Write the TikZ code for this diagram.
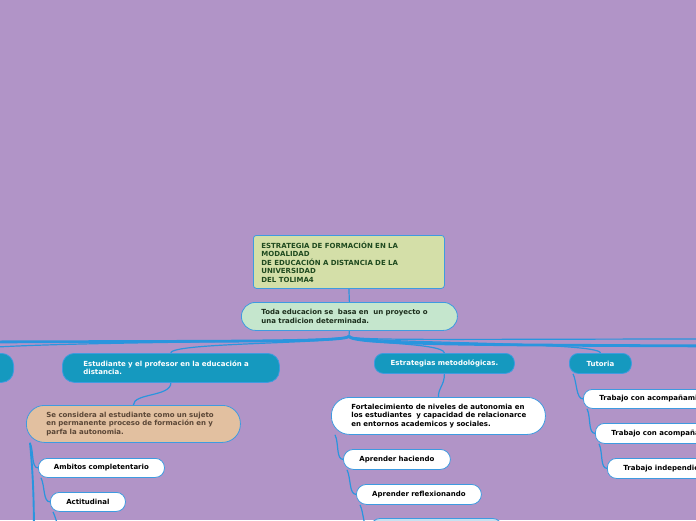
\documentclass[tikz,border=0pt]{standalone}
\usepackage{fontspec}
\setmainfont{DejaVu Sans}
\usetikzlibrary{calc}
\definecolor{bgc}{HTML}{B194C7}
\definecolor{lnk}{HTML}{2A95DE}
\definecolor{edg}{HTML}{3E9BE0}
\definecolor{tealn}{HTML}{1599BF}
\definecolor{rootf}{HTML}{D4DFA8}
\definecolor{mint}{HTML}{C5E6CD}
\definecolor{tanf}{HTML}{E2C0A0}
\definecolor{lblue}{HTML}{C6E2F2}
\definecolor{roott}{HTML}{1F4A1F}
\definecolor{mintt}{HTML}{1C2E1C}
\definecolor{brn}{HTML}{5A4636}
\newcommand\fsz{\fontsize{7}{8.5}\selectfont\bfseries}
\pgfdeclarelayer{bgl}
\pgfdeclarelayer{lin}
\pgfsetlayers{bgl,lin,main}
\begin{document}
\begin{tikzpicture}[x=1pt,y=-1pt,
  box/.style={draw=edg, line width=0.8pt, inner sep=0pt, font=\fsz, anchor=north west},
  tealbox/.style={box, fill=tealn, text=white},
  whitebox/.style={box, fill=white, text=black},
  lk/.style={draw=lnk, line width=1.2pt},
  thk/.style={draw=lnk, line width=2.8pt},
  thkb/.style={draw=lnk, line width=1.9pt}]
\begin{pgfonlayer}{bgl}
\fill[bgc] (0,0) rectangle (696,520);
\end{pgfonlayer}
\useasboundingbox (0,0) rectangle (696,520);

% nodes
\node[box, fill=rootf, text=roott, rounded corners=3pt, minimum height=53pt,
  text width=175pt, inner xsep=8pt, align=left] (root) at (253,235)
  {\mbox{ESTRATEGIA DE FORMACIÓN EN LA}\\MODALIDAD\\\mbox{DE EDUCACIÓN A DISTANCIA DE LA}\\UNIVERSIDAD\\DEL TOLIMA4};
\node[box, fill=mint, text=mintt, rounded corners=14pt, minimum height=28pt,
  text width=176pt, inner xsep=20pt, align=left] (tda) at (241,302)
  {\mbox{Toda educacion se~ basa en~ un proyecto o}\\\mbox{una tradicion determinada.}};

\node[tealbox, anchor=north east, rounded corners=12pt, minimum height=29pt, minimum width=120pt] (offl) at (14,353) {};
\node[tealbox, rounded corners=12pt, minimum height=29pt, text width=175pt, inner xsep=21pt, align=left] (est) at (62,353)
  {\mbox{Estudiante y el profesor en la educación a}\\distancia.};
\node[tealbox, rounded corners=9pt, minimum height=20pt, text width=140pt, align=center] (estrat) at (374,353)
  {Estrategias metodológicas.};
\node[tealbox, rounded corners=9pt, minimum height=20pt, text width=62pt, align=center] (tut) at (569,353)
  {Tutoria};

\node[box, fill=tanf, text=brn, rounded corners=18pt, minimum height=37pt, text width=174pt, inner xsep=20pt, align=left] (beige) at (26,405)
  {\mbox{Se considera al estudiante como un sujeto}\\\mbox{en permanente proceso de formación en y}\\\mbox{parfa la autonomia.}};
\node[whitebox, rounded corners=9pt, minimum height=19pt, text width=126pt, align=center] (amb) at (38,458) {Ambitos completentario};
\node[whitebox, rounded corners=9pt, minimum height=19pt, text width=75pt, align=center] (act) at (50,492) {Actitudinal};

\node[whitebox, rounded corners=18pt, minimum height=37pt, text width=174pt, inner xsep=20pt, align=left] (fort) at (331,397)
  {\mbox{Fortalecimiento de niveles de autonomia en}\\\mbox{los estudiantes~ y capacidad de relacionarce}\\\mbox{en entornos academicos y sociales.}};
\node[whitebox, rounded corners=10pt, minimum height=20pt, text width=107pt, align=center] (ah) at (343,449) {Aprender haciendo};
\node[whitebox, rounded corners=10pt, minimum height=20pt, text width=125pt, align=center] (ar) at (356,484) {Aprender reflexionando};
\node[box, fill=lblue, rounded corners=10pt, minimum height=22pt, minimum width=132pt] (lb) at (370,518) {};

\node[whitebox, rounded corners=9pt, minimum height=19pt, inner xsep=16pt] (t1) at (583,389) {Trabajo con acompañamiento};
\node[whitebox, rounded corners=9pt, minimum height=20pt, inner xsep=16pt] (t2) at (595,423) {Trabajo con acompañamiento};
\node[whitebox, rounded corners=9pt, minimum height=20pt, inner xsep=16pt] (t3) at (607,458) {Trabajo independiente};

% connectors
\coordinate (J) at (349,336);
\coordinate (L1) at (-30,342);
\coordinate (R1) at (730,346);
\coordinate (R2) at (730,339);
\coordinate (B1) at (34,540);
\coordinate (B2) at (66,536);
\begin{pgfonlayer}{lin}
\draw[lk] (root.south) -- (tda.north);
\draw[lk] (tda.south) -- (J);
\draw[thk] (J) .. controls (349,342) and (250,341) .. (L1);
\draw[thk] (J) .. controls (349,344) and (450,345) .. (R1);
\draw[lk] (J) .. controls (349,341) and (450,339) .. (R2);
\draw[lk] (J) .. controls (349,344) and (-40,340) .. (offl.north);
\draw[lk] (J) .. controls (349,344) and (170,342) .. (est.north);
\draw[lk] (J) .. controls (349,344) and (443,342) .. (estrat.north);
\draw[lk] (J) .. controls (349,344) and (600,341) .. (tut.north);

\draw[lk] (est.south) .. controls +(0,14) and +(0,-12) .. (beige.north);
\draw[lk] (estrat.south) .. controls +(0,12) and +(0,-10) .. (fort.north);

\draw[lk] ($(beige.south west)+(4,0)$) .. controls +(4,8) and +(-7,0) .. (amb.west);
\draw[thkb] ($(beige.south west)+(4,0)$) .. controls +(3,30) and +(0,-40) .. (B1);
\draw[lk] ($(amb.south west)+(3,0)$) .. controls +(4,8) and +(-7,0) .. (act.west);
\draw[lk] ($(act.south west)+(3,0)$) .. controls +(4,8) and +(-7,0) .. (B2);

\draw[lk] ($(fort.south west)+(4,0)$) .. controls +(4,8) and +(-7,0) .. (ah.west);
\draw[lk] ($(ah.south west)+(4,0)$) .. controls +(4,8) and +(-7,0) .. (ar.west);
\draw[lk] ($(ar.south west)+(4,0)$) .. controls +(4,8) and +(-7,0) .. (lb.west);

\draw[lk] ($(tut.south west)+(4,0)$) .. controls +(4,8) and +(-7,0) .. (t1.west);
\draw[lk] ($(t1.south west)+(4,0)$) .. controls +(4,8) and +(-7,0) .. (t2.west);
\draw[lk] ($(t2.south west)+(4,0)$) .. controls +(4,8) and +(-7,0) .. (t3.west);
\end{pgfonlayer}
\end{tikzpicture}
\end{document}
